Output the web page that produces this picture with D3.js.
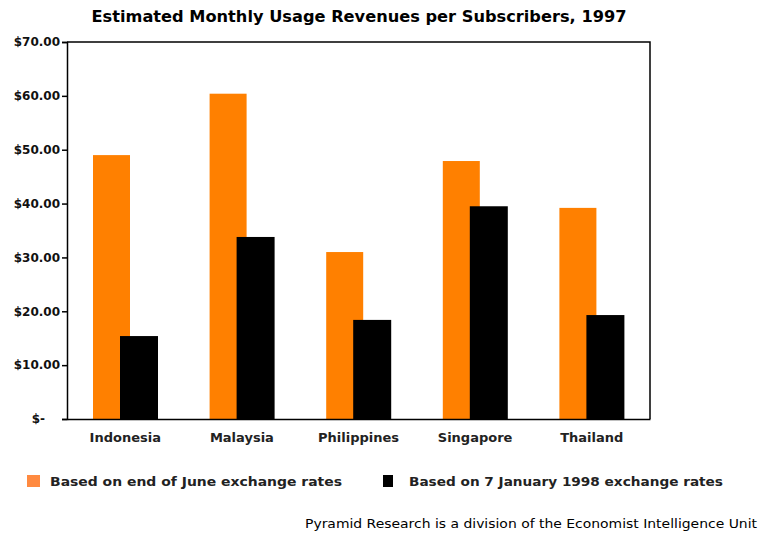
<!DOCTYPE html>
<html>
<head>
<meta charset="utf-8">
<script src="https://cdn.jsdelivr.net/npm/d3@7"></script>
<style>
  body { margin: 0; background: #fff; }
  svg { display: block; font-family: "DejaVu Sans", Verdana, sans-serif; }
</style>
</head>
<body>
<div id="chart"></div>
<script>
// ─── Data ────────────────────────────────────────────────
const countries = ['Indonesia', 'Malaysia', 'Philippines', 'Singapore', 'Thailand'];
const juneRates = [49.0, 60.4, 31.0, 47.9, 39.2];
const januaryRates = [15.4, 33.8, 18.4, 39.5, 19.3];
const yTicks = [0, 10, 20, 30, 40, 50, 60, 70];
const seriesNames = ['Based on end of June exchange rates', 'Based on 7 January 1998 exchange rates'];
const seriesColors = ['#ff8000', '#000000'];
const legendColors = ['#ff8a40', '#000000'];

// ─── Layout ──────────────────────────────────────────────
const W = 758, H = 533;
const plot = { left: 67, top: 42, right: 650, bottom: 419 };

const svg = d3.select('#chart').append('svg').attr('width', W).attr('height', H);

const x = d3.scaleBand().domain(countries).range([plot.left, plot.right]);
const y = d3.scaleLinear().domain([0, 70]).range([plot.bottom, plot.top]);

// title
svg.append('text')
  .attr('x', 359).attr('y', 22)
  .attr('text-anchor', 'middle')
  .attr('font-size', 15).attr('font-weight', 'bold')
  .attr('textLength', 535).attr('lengthAdjust', 'spacingAndGlyphs')
  .text('Estimated Monthly Usage Revenues per Subscribers, 1997');

// bars: orange first, black overlaps on top
const barW = 37;
const orangeOffset = 26;
const blackOffset = 53;

svg.append('g').selectAll('rect')
  .data(countries).join('rect')
  .attr('x', d => x(d) + orangeOffset)
  .attr('y', (d, i) => y(juneRates[i]))
  .attr('width', barW)
  .attr('height', (d, i) => y(0) - y(juneRates[i]))
  .attr('fill', seriesColors[0]);

svg.append('g').selectAll('rect')
  .data(countries).join('rect')
  .attr('x', d => x(d) + blackOffset)
  .attr('y', (d, i) => y(januaryRates[i]))
  .attr('width', barW + 1)
  .attr('height', (d, i) => y(0) - y(januaryRates[i]))
  .attr('fill', seriesColors[1]);

// frame: top and right lines
svg.append('path')
  .attr('d', `M${plot.left},${plot.top}H${plot.right}V${plot.bottom}`)
  .attr('fill', 'none').attr('stroke', '#000').attr('stroke-width', 1.5);

// y axis
const yAxis = svg.append('g')
  .attr('transform', `translate(${plot.left},0)`)
  .call(d3.axisLeft(y).tickValues(yTicks).tickSize(5).tickPadding(2)
    .tickFormat(d => d === 0 ? '$-' : '$' + d3.format('.2f')(d)));
yAxis.select('.domain').attr('stroke-width', 1.5);
yAxis.selectAll('.tick line').attr('stroke-width', 1.5);
yAxis.selectAll('text')
  .attr('font-size', 12).attr('font-weight', 'bold')
  .attr('font-family', '"DejaVu Sans", Verdana, sans-serif')
  .attr('fill', '#111');
yAxis.selectAll('.tick').filter(d => d === 0).select('text').attr('x', -22);

// x axis
const xAxis = svg.append('g')
  .attr('transform', `translate(0,${plot.bottom})`)
  .call(d3.axisBottom(x).tickSize(0).tickPadding(14));
xAxis.select('.domain').attr('stroke-width', 1.5);
xAxis.selectAll('text')
  .attr('font-size', 13).attr('font-weight', 'bold')
  .attr('font-family', '"DejaVu Sans", Verdana, sans-serif')
  .attr('fill', '#222');

// legend
const legendX = [27, 383];
const legendTextW = [292, 314];
const legend = svg.append('g').selectAll('g')
  .data(seriesNames).join('g')
  .attr('transform', (d, i) => `translate(${legendX[i]},475)`);
legend.append('rect')
  .attr('width', (d, i) => i === 0 ? 13 : 10).attr('height', 12)
  .attr('fill', (d, i) => legendColors[i]);
legend.append('text')
  .attr('x', (d, i) => i === 0 ? 23 : 26).attr('y', 11)
  .attr('font-size', 13).attr('font-weight', 'bold')
  .attr('textLength', (d, i) => legendTextW[i]).attr('lengthAdjust', 'spacingAndGlyphs')
  .attr('fill', '#222')
  .text(d => d);

// footer
svg.append('text')
  .attr('x', 305).attr('y', 528)
  .attr('font-size', 13)
  .attr('textLength', 452).attr('lengthAdjust', 'spacingAndGlyphs')
  .text('Pyramid Research is a division of the Economist Intelligence Unit');
</script>
</body>
</html>
